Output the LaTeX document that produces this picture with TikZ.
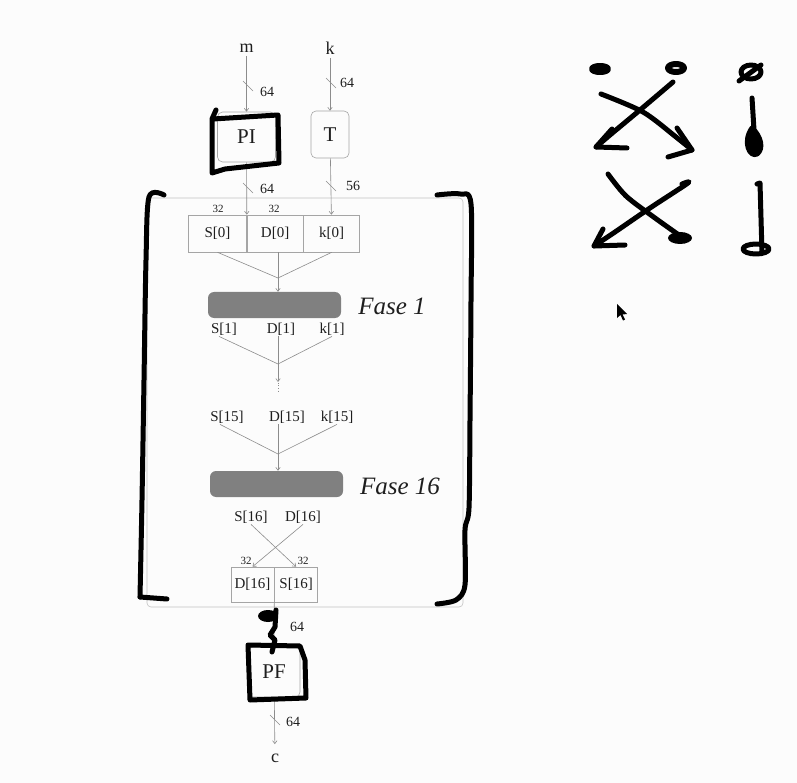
\documentclass[tikz,border=0pt]{standalone}
\usepackage{fontspec}
\setmainfont{Liberation Serif}
\usetikzlibrary{positioning,arrows.meta}

\definecolor{wiregray}{RGB}{140,140,140}
\definecolor{boxgray}{RGB}{165,165,165}
\definecolor{framegray}{RGB}{195,195,195}
\definecolor{fasegray}{RGB}{128,128,128}
\definecolor{paper}{RGB}{252,252,252}
\definecolor{ink}{RGB}{30,30,30}

\tikzset{
  wire/.style={draw=wiregray,line width=0.6pt},
  arr/.style={wire,-{Straight Barb[length=3pt,width=4.5pt]}},
  cell/.style={draw=boxgray,line width=0.6pt,inner sep=0pt,minimum height=37pt,font=\fontsize{15}{15}\selectfont,text=ink},
  blk/.style={draw=boxgray,line width=0.6pt,rounded corners=5pt,inner sep=0pt,font=\fontsize{21}{21}\selectfont,text=ink},
  fase/.style={fill=fasegray,rounded corners=6pt,minimum width=133pt,minimum height=26pt,inner sep=0pt},
  fasetxt/.style={font=\fontsize{25}{25}\selectfont\itshape,text=ink},
  reg/.style={font=\fontsize{15}{15}\selectfont,text=ink,inner sep=1pt},
  io/.style={font=\fontsize{18}{18}\selectfont,text=ink},
  bits/.style={font=\fontsize{14}{14}\selectfont,text=ink},
  half/.style={font=\fontsize{11}{11}\selectfont,text=ink},
  pen/.style={line width=5pt,black,line cap=round,line join=round},
  bus/.pic={\draw[wire] (-5,-5) -- (5,5);}
}

\begin{document}
\begin{tikzpicture}[x=1pt,y=-1pt]
    \fill[paper] (0,0) rectangle (797,783);
    \useasboundingbox (0,0) rectangle (797,783);

    % Inputs, initial permutation and key transform
    \node[io] (m) at (246.5,48) {m};
    \node[io] (k) at (330,48) {k};
    \node[blk,minimum width=58pt,minimum height=50pt] (PI) at (246.5,137) {PI};
    \node[blk,minimum width=38pt,minimum height=47pt] (T) at (330,134.5) {T};
    \draw[arr] (m) -- (PI);
    \draw[arr] (k) -- (T);
    \pic at (248,86) {bus};
    \node[bits] at (267,92) {64};
    \pic at (331,83) {bus};
    \node[bits] at (347,83) {64};

    % Outer frame of the rounds
    \draw[framegray,line width=0.6pt,rounded corners=4pt] (147,198) rectangle (463,607);

    % Register before round 1
    \node[cell,minimum width=58pt] (s0) at (217.5,233.5) {S[0]};
    \node[cell,minimum width=56pt,right=0pt of s0] (d0) {D[0]};
    \node[cell,minimum width=56pt,right=0pt of d0] (k0) {k[0]};
    \draw[arr] (PI) -- (s0.north east);
    \draw[arr] (T) -- (k0);
    \pic at (248,188) {bus};
    \node[bits] at (267,189) {64};
    \pic at (331,186) {bus};
    \node[bits] at (353,186) {56};
    \node[half] at (218,209) {32};
    \node[half] at (274,209) {32};

    % Round 1
    \coordinate (j0) at (278,278);
    \draw[wire] (s0.south) -- (j0);
    \draw[wire] (d0.south -| j0) -- (j0);
    \draw[wire] (k0.south) -- (j0);
    \node[fase] (f1) at (274.5,305) {};
    \draw[arr] (j0) -- (j0 |- f1.north);
    \node[fasetxt] (t1) at (392,306) {Fase 1};

    \node[reg] (s1) at (224,329) {S[1]};
    \node[reg] (d1) at (281,329) {D[1]};
    \node[reg] (k1) at (332,329) {k[1]};
    \coordinate (j1) at (278,364);
    \draw[wire] ([xshift=-5pt]s1.south) -- (j1);
    \draw[wire] (d1.south -| j1) -- (j1);
    \draw[wire] (k1.south) -- (j1);
    \draw[arr] (j1) -- ++(0,18) coordinate (a1);
    \draw[wire,dotted] ([yshift=7pt]a1) -- ++(0,18);

    % Round 16
    \node[reg] (s15) at (227,417) {S[15]};
    \node[reg] (d15) at (287,417) {D[15]};
    \node[reg] (k15) at (337,417) {k[15]};
    \coordinate (j15) at (278,454);
    \draw[wire] ([xshift=-7pt]s15.south) -- (j15);
    \draw[wire] (d15.south -| j15) -- (j15);
    \draw[wire] (k15.south) -- (j15);
    \node[fase] (f16) at (276.5,484) {};
    \draw[arr] (j15) -- (j15 |- f16.north);
    \node[fasetxt] (t16) at (400,486) {Fase 16};

    % Final swap
    \node[reg] (s16) at (251,517) {S[16]};
    \node[reg] (d16) at (303,517) {D[16]};
    \node[cell,minimum width=43pt,minimum height=35pt] (dd) at (252.5,584.5) {D[16]};
    \node[cell,minimum width=43pt,minimum height=35pt,right=0pt of dd] (ss) {S[16]};
    \draw[arr] (s16.south) -- (ss.north);
    \draw[arr] (d16.south) -- (dd.north);
    \node[half] at (246,561) {32};
    \node[half] at (303,561) {32};

    % Final permutation and output
    \node[blk,minimum width=52pt,minimum height=50pt] (PF) at (274,672) {PF};
    \node[io] (c) at (275,758) {c};
    \draw[arr] (dd.south east) -- (PF);
    \node[bits] at (297,627) {64};
    \draw[arr,shorten >=6pt] (PF) -- (c);
    \pic at (275,720) {bus};
    \node[bits] at (293,722) {64};

    % Hand-drawn marks over the diagram
    \draw[pen] (216,110) -- (212,119) -- (212,173) -- (225,169) -- (279,163) -- (278,115) -- (213,119);
    \fill[black] (268,616) ellipse (10 and 6);
    \draw[pen] (276,610) -- (275,627) -- (270,635) -- (275,640) -- (272,652);
    \draw[pen] (248,645) -- (300,646) -- (305,660) -- (306,698) -- (250,700) -- cycle;
    \draw[pen] plot[smooth] coordinates {(164,195) (149,197) (146,260) (144,380) (142,500) (140,597)};
    \draw[pen] (140,597) -- (167,599);
    \draw[pen] plot[smooth] coordinates {(437,195) (460,194) (471,204) (471,300) (470,420) (469,508) (465,530) (465,585) (456,600) (437,604)};

    % Hand-drawn sketch on the right
    \draw[pen,line width=6pt] (600,69) ellipse (8 and 3);
    \draw[pen,line width=6pt] (676,68) ellipse (8 and 4);
    \draw[pen] (751,72) ellipse (10 and 7);
    \draw[pen] (739,81) -- (761,65);
    \draw[pen] plot[smooth] coordinates {(601,94) (643,112) (676,137) (692,150)};
    \draw[pen] (677,128) -- (692,150) -- (668,157);
    \draw[pen] plot[smooth] coordinates {(673,82) (640,110) (610,135) (596,147)};
    \draw[pen] (612,129) -- (596,147) -- (627,148);
    \draw[pen] (752,98) -- (754,130);
    \filldraw[pen] (752,128) .. controls (742,142) and (750,158) .. (757,154) .. controls (764,149) and (761,136) .. (752,128);
    \draw[pen] plot[smooth] coordinates {(608,174) (626,196) (655,218) (686,240)};
    \fill[black] (680,238) ellipse (12 and 6);
    \draw[pen] plot[smooth] coordinates {(682,184) (688,183) (650,208) (615,232) (594,246)};
    \draw[pen] (603,229) -- (594,246) -- (625,245);
    \draw[pen] (757,184) -- (760,183) -- (762,253);
    \draw[pen] (756,249) ellipse (13 and 5);

    % Mouse pointer
    \fill[black] (617,304) -- (617,318) -- (620.5,315) -- (623,320.5) -- (625,319.5) -- (622.5,314.5) -- (627,314) -- cycle;
\end{tikzpicture}
\end{document}
